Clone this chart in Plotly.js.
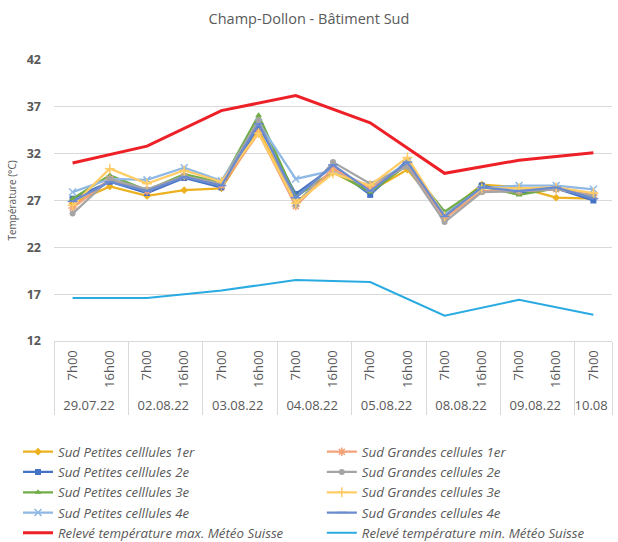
<!DOCTYPE html>
<html>
<head>
<meta charset="utf-8">
<script src="https://cdn.plot.ly/plotly-3.0.1.min.js"></script>
<style>html,body{margin:0;padding:0;background:#fff;}#chart{width:618px;height:542px;}</style>
</head>
<body>
<div id="chart"></div>
<script>
// Categories (two-level axis)
const dates = ['29.07.22','29.07.22','02.08.22','02.08.22','03.08.22','03.08.22','04.08.22','04.08.22','05.08.22','05.08.22','08.08.22','08.08.22','09.08.22','09.08.22','10.08'];
const times = ['7h00','16h00','7h00','16h00','7h00','16h00','7h00','16h00','7h00','16h00','7h00','16h00','7h00','16h00','7h00'];

// Series values (°C)
const petites1er = [26.7, 28.5, 27.5, 28.1, 28.3, 34.5, 26.8, 30.0, 28.0, 30.3, 25.5, 28.7, 28.4, 27.3, 27.2];
const grandes1er = [26.2, 29.3, 28.0, 29.6, 28.6, 34.2, 26.4, 30.4, 28.3, 30.8, 25.1, 28.0, 28.0, 28.2, 27.6];
const petites2e  = [27.2, 29.0, 27.8, 29.4, 28.4, 35.0, 27.7, 30.6, 27.6, 31.3, 25.2, 28.6, 27.8, 28.3, 27.0];
const grandes2e  = [25.6, 29.3, 28.2, 29.6, 28.8, 35.6, 26.5, 31.1, 28.8, 30.6, 24.7, 27.9, 28.0, 28.2, 27.5];
const petites3e  = [27.2, 29.7, 28.1, 29.8, 28.9, 36.1, 27.4, 30.1, 27.9, 30.8, 25.8, 28.5, 27.6, 28.3, 27.4];
const grandes3e  = [26.5, 30.4, 28.8, 30.2, 29.0, 34.2, 26.7, 29.9, 28.6, 31.6, 25.3, 28.3, 28.3, 28.4, 27.8];
const petites4e  = [27.9, 29.3, 29.2, 30.5, 29.1, 35.3, 29.3, 30.2, 28.5, 31.0, 25.5, 28.3, 28.6, 28.6, 28.2];
const grandes4e  = [26.9, 29.0, 28.0, 29.5, 28.6, 35.2, 27.3, 30.8, 28.0, 31.1, 25.3, 28.4, 28.0, 28.4, 27.2];
const meteoMax   = [31.0, null, 32.8, null, 36.6, null, 38.2, null, 35.3, null, 29.9, null, 31.3, null, 32.1];
const meteoMin   = [16.6, null, 16.6, null, 17.4, null, 18.5, null, 18.3, null, 14.7, null, 16.4, null, 14.8];

const yTicks = [12, 17, 22, 27, 32, 37, 42];

const x = [dates, times];
function cell(name, y, color, symbol, open, legend) {
  return {
    type: 'scatter', mode: 'lines+markers', name: name, x: x, y: y, legend: legend,
    line: {color: color, width: 2.25},
    marker: {color: color, symbol: symbol, size: open ? 7 : 6, line: {color: color, width: open ? 1.5 : 0}}
  };
}

const traces = [
  cell('Sud Petites celllules 1er', petites1er, '#edb120', 'diamond', false, 'legend'),
  cell('Sud Petites celllules 2e', petites2e, '#4472c4', 'square', false, 'legend'),
  cell('Sud Petites celllules 3e', petites3e, '#70ad47', 'triangle-up', false, 'legend'),
  cell('Sud Petites celllules 4e', petites4e, '#8fb8e4', 'x-thin-open', true, 'legend'),
  {type:'scatter', mode:'lines', name:'Relevé température max. Météo Suisse', x:x, y:meteoMax, connectgaps:true, legend:'legend', line:{color:'#ee2027', width:3}},
  cell('Sud Grandes cellules 1er', grandes1er, '#f4a27a', 'asterisk-open', true, 'legend2'),
  cell('Sud Grandes cellules 2e', grandes2e, '#a5a5a5', 'circle', false, 'legend2'),
  cell('Sud Grandes cellules 3e', grandes3e, '#ffcc66', 'cross-thin-open', true, 'legend2'),
  cell('Sud Grandes cellules 4e', grandes4e, '#6a8bd0', 'line-ew-open', true, 'legend2'),
  {type:'scatter', mode:'lines', name:'Relevé température min. Météo Suisse', x:x, y:meteoMin, connectgaps:true, legend:'legend2', line:{color:'#29abe2', width:2}}
];

const legendFont = {family: '"Open Sans", sans-serif', size: 13.3, color: '#595959', style: 'italic'};
const layout = {
  width: 618, height: 542,
  margin: {l: 54, r: 6, t: 60, b: 201, autoexpand: false},
  paper_bgcolor: '#fff', plot_bgcolor: '#fff',
  font: {family: '"Open Sans", sans-serif', color: '#595959', size: 12},
  title: {text: 'Champ-Dollon - Bâtiment Sud', x: 0.5, xanchor: 'center', y: 0.965, yanchor: 'middle', font: {size: 14.5, color: '#595959'}},
  showlegend: true,
  legend: {orientation: 'v', x: -0.0645, xanchor: 'left', y: -0.34, yanchor: 'top', font: legendFont, tracegroupgap: 0, itemwidth: 30, traceorder: 'normal', bgcolor: 'rgba(0,0,0,0)'},
  legend2: {orientation: 'v', x: 0.48, xanchor: 'left', y: -0.34, yanchor: 'top', font: legendFont, tracegroupgap: 0, itemwidth: 30, traceorder: 'normal', bgcolor: 'rgba(0,0,0,0)'},
  xaxis: {
    type: 'multicategory', tickangle: -90, automargin: false, range: [-0.5, 14.5], autorange: false,
    showline: true, linecolor: '#d9d9d9', linewidth: 1,
    showgrid: false, ticks: '', showdividers: true, dividercolor: '#d9d9d9', dividerwidth: 1,
    tickfont: {size: 13, color: '#595959'}, ticklabelstandoff: 3
  },
  yaxis: {
    range: [12, 42], tickvals: yTicks, ticktext: yTicks.map(String), automargin: false,
    showgrid: true, gridcolor: '#d9d9d9', gridwidth: 1, zeroline: false, showline: false,
    tickfont: {size: 12.5, color: '#595959', weight: 'bold'}, ticks: '', ticklabelstandoff: 12,
    title: {text: 'Température (°C)', font: {size: 10, color: '#595959'}, standoff: 8}
  }
};

Plotly.newPlot('chart', traces, layout, {staticPlot: true, displayModeBar: false});
</script>
</body>
</html>
